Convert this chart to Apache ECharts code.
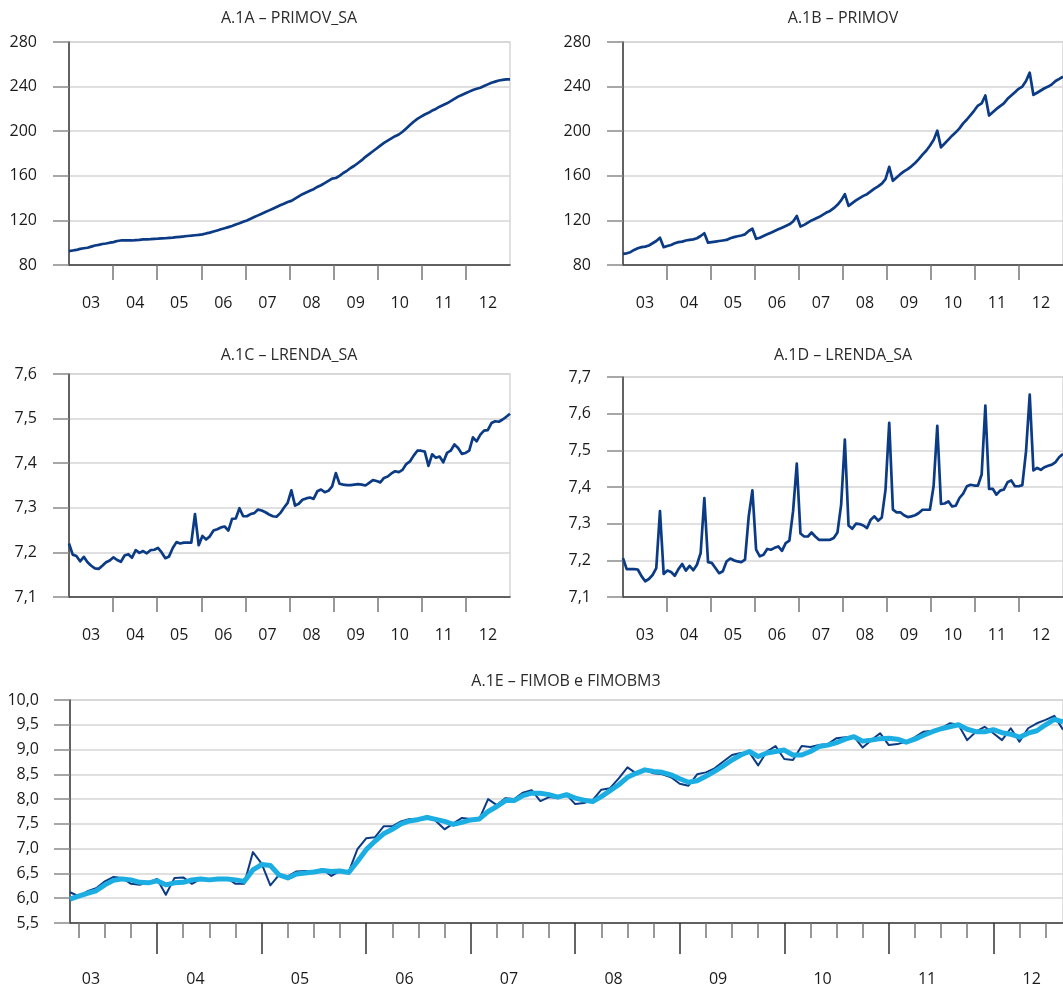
<!DOCTYPE html>
<html><head><meta charset="utf-8">
<script src="https://cdn.jsdelivr.net/npm/echarts@6/dist/echarts.min.js"></script>
<style>html,body{margin:0;padding:0;background:#fff}#c{width:1063px;height:990px}</style>
</head><body><div id="c"></div>
<script>
// ---------- data ----------
const yearLabels = ['03','04','05','06','07','08','09','10','11','12'];

// A.1A – PRIMOV_SA (monthly, 120 points)
const primovSA = [
  92.5,93,93.5,94.5,95,95.5,96.5,97.5,98,98.8,99.3,100,
  100.5,101.5,102,102,102,102,102.3,102.6,103,103,103.2,103.5,
  103.6,103.8,104,104.3,104.6,105,105.3,105.6,106,106.3,106.7,107,
  107.5,108.3,109,110,111,112,113,114,115,116.3,117.5,118.8,
  120,121.5,123,124.5,126,127.5,129,130.5,132,133.5,135,136.5,
  137.5,139.5,141.5,143.5,145,146.5,148,150,151.5,153.5,155.5,157.5,
  158,160,162.5,164.5,167,169,171.5,174,177,179.5,182,184.5,
  187,189.5,191.5,193.5,195.5,197,199.5,202.5,205.5,208.5,211,213,
  215,216.5,218.5,220,222,223.5,225,227,229,231,232.5,234,
  235.5,237,238,239,240.5,242,243.5,244.5,245.5,246,246.5,246.5
];

// A.1B – PRIMOV
const primov = [
  90,90.5,91.5,93.5,95,96,96.5,97.5,99.5,101.5,104.5,96,
  97,98,99.5,100.5,101,102,102.5,103,104,106,108.5,100,
  100.5,101,101.5,102,102.5,104,105,105.8,106.5,107.5,110.5,112.5,
  103.5,104.5,106,107.5,109,110.5,112,113.5,115,116.5,119,124,
  114.5,116,118,120,121.5,123,125,127,128.5,131,134,138,
  143.5,133,135.5,138,140,142,143.5,146,148.5,150.5,153,157,
  168,155.5,158.5,161.5,164,166,168.5,171.5,175,179,182.5,187,
  192,200.5,185.5,189,192.5,196,199,202.5,207,210.5,214.5,218.5,
  223,225,232,214,217,220,222.5,225,229,232,235,238,
  240,245,252.5,232.5,234.5,236.5,238.5,240,242,245,247,249
];

// A.1C – LRENDA_SA
const lrendaSA = [
  7.220,7.195,7.192,7.180,7.190,7.178,7.170,7.164,7.163,7.170,7.178,7.182,
  7.189,7.183,7.179,7.193,7.196,7.188,7.205,7.199,7.203,7.198,7.205,7.206,
  7.210,7.200,7.187,7.191,7.210,7.223,7.220,7.222,7.222,7.222,7.286,7.216,
  7.237,7.229,7.236,7.249,7.252,7.256,7.258,7.249,7.275,7.276,7.299,7.281,
  7.281,7.286,7.288,7.296,7.294,7.290,7.285,7.281,7.280,7.288,7.300,7.311,
  7.339,7.305,7.309,7.318,7.321,7.323,7.320,7.337,7.341,7.335,7.338,7.348,
  7.378,7.354,7.352,7.351,7.351,7.352,7.353,7.352,7.350,7.356,7.362,7.360,
  7.357,7.367,7.370,7.377,7.382,7.380,7.385,7.398,7.404,7.417,7.428,7.428,
  7.426,7.394,7.420,7.412,7.415,7.402,7.423,7.428,7.442,7.434,7.421,7.423,
  7.428,7.458,7.449,7.464,7.473,7.474,7.490,7.494,7.493,7.498,7.504,7.511
];

// A.1D – LRENDA (not seasonally adjusted)
const lrenda = [
  7.206,7.176,7.176,7.176,7.175,7.157,7.143,7.149,7.160,7.179,7.334,7.163,
  7.172,7.168,7.158,7.176,7.190,7.172,7.185,7.173,7.188,7.220,7.370,7.195,
  7.193,7.179,7.165,7.170,7.197,7.205,7.200,7.197,7.195,7.202,7.320,7.391,
  7.229,7.211,7.215,7.231,7.229,7.234,7.238,7.226,7.247,7.254,7.334,7.464,
  7.273,7.265,7.265,7.276,7.265,7.256,7.256,7.256,7.256,7.261,7.276,7.352,
  7.529,7.295,7.286,7.300,7.299,7.295,7.288,7.311,7.320,7.308,7.317,7.393,
  7.575,7.338,7.331,7.331,7.323,7.318,7.320,7.323,7.329,7.338,7.338,7.338,
  7.402,7.567,7.354,7.355,7.361,7.347,7.349,7.370,7.382,7.402,7.406,7.404,
  7.404,7.434,7.622,7.395,7.395,7.379,7.390,7.393,7.413,7.418,7.402,7.402,
  7.405,7.497,7.652,7.445,7.452,7.447,7.454,7.458,7.461,7.468,7.482,7.490
];

// A.1E – FIMOB (dark) and FIMOBM3 (light), monthly from the first visible month
const fimob = [
  6.12,6.04,6.14,6.20,6.34,6.43,6.41,6.29,6.27,6.32,6.39,6.07,
  6.41,6.42,6.29,6.39,6.37,6.39,6.41,6.29,6.29,6.93,6.70,6.26,
  6.47,6.44,6.54,6.55,6.53,6.59,6.45,6.55,6.53,6.99,7.21,7.23,
  7.45,7.45,7.55,7.60,7.58,7.66,7.56,7.39,7.51,7.62,7.60,7.60,
  8.00,7.88,8.02,8.00,8.13,8.18,7.96,8.04,8.02,8.09,7.90,7.92,
  7.98,8.19,8.22,8.42,8.64,8.52,8.59,8.52,8.50,8.44,8.31,8.27,
  8.50,8.54,8.62,8.76,8.89,8.93,8.94,8.68,8.96,9.07,8.81,8.79,
  9.07,9.05,9.09,9.11,9.23,9.25,9.26,9.04,9.19,9.33,9.09,9.11,
  9.16,9.25,9.36,9.38,9.43,9.53,9.50,9.19,9.36,9.46,9.33,9.19,
  9.43,9.16,9.43,9.53,9.60,9.68,9.40
];
const fimobM3 = [
  5.98,6.04,6.10,6.15,6.27,6.36,6.39,6.37,6.32,6.31,6.35,6.27,
  6.31,6.32,6.37,6.39,6.37,6.39,6.39,6.37,6.34,6.57,6.68,6.66,
  6.47,6.41,6.49,6.51,6.53,6.56,6.54,6.55,6.52,6.74,6.98,7.15,
  7.30,7.39,7.50,7.56,7.59,7.63,7.59,7.55,7.49,7.53,7.58,7.60,
  7.75,7.85,7.97,7.97,8.07,8.12,8.12,8.09,8.04,8.09,8.02,7.98,
  7.95,8.05,8.17,8.29,8.44,8.52,8.59,8.56,8.54,8.49,8.41,8.34,
  8.37,8.46,8.56,8.67,8.79,8.89,8.96,8.86,8.93,8.96,8.99,8.89,
  8.89,8.96,9.06,9.09,9.14,9.21,9.26,9.17,9.19,9.22,9.23,9.21,
  9.15,9.21,9.29,9.36,9.42,9.46,9.50,9.41,9.36,9.36,9.40,9.34,
  9.31,9.25,9.33,9.38,9.50,9.61,9.56
];

const titles = ['A.1A – PRIMOV_SA','A.1B – PRIMOV','A.1C – LRENDA_SA','A.1D – LRENDA_SA','A.1E – FIMOB e FIMOBM3'];

// ---------- styling / layout ----------
const FONT = '"Open Sans","Noto Sans",sans-serif';
const FS = 16;
const NAVY = '#0c3b85', CYAN = '#1caee2';
const LBL = '#1a1a1a', GRIDC = '#d6d6d6', AXC = '#3a3a3a';
const comma = v => v.toFixed(1).replace('.', ',');

// panels A-D: 120 months over 10 year-blocks
const YR = 119 / 10;
const yrTicks = []; for (let k = 1; k <= 9; k++) yrTicks.push(k * YR);
const yrLabelPos = yearLabels.map((_, k) => YR / 2 + k * YR);

function monthAxis(g) {
  return {
    type: 'value', gridIndex: g, min: 0, max: 119, position: 'bottom',
    axisLine: { show: true, onZero: false, lineStyle: { color: AXC, width: 1.5 } },
    axisTick: { show: true, customValues: yrTicks, length: 15, lineStyle: { color: '#777', width: 1.5 } },
    axisLabel: { customValues: yrLabelPos, margin: 30, color: LBL, fontSize: FS, fontFamily: FONT,
      formatter: v => yearLabels[Math.round((v - YR / 2) / YR)] },
    splitLine: { show: false }
  };
}
function valAxis(g, min, max, interval, fmt, margin) {
  return {
    type: 'value', gridIndex: g, min, max, interval, position: 'left',
    axisLine: { show: true, onZero: false, lineStyle: { color: AXC, width: 1.5 } },
    axisTick: { show: true, length: 16, lineStyle: { color: '#8a8a8a', width: 1.5 } },
    axisLabel: { margin: margin || 32, color: LBL, fontSize: FS, fontFamily: FONT, formatter: fmt },
    splitLine: { show: true, lineStyle: { color: GRIDC, width: 1.5 } }
  };
}

// panel E: axis from first month to the right edge of the picture
const EMAX = 114;
const eMajor = []; for (let m = 10; m <= EMAX; m += 12) eMajor.push(m);
const eMinor = []; for (let m = 1; m <= EMAX; m += 3) if ((m - 10) % 12 !== 0) eMinor.push(m);
const eLabelPos = yearLabels.map((_, k) => 2.4 + 12 * k);

const gridBase = { show: true, borderColor: GRIDC, borderWidth: 1.5, backgroundColor: 'transparent' };
const grids = [
  Object.assign({ left: 69, top: 42, width: 441, height: 223 }, gridBase),
  Object.assign({ left: 623, top: 42, right: 0, height: 223 }, gridBase),
  Object.assign({ left: 69, top: 374, width: 441, height: 223 }, gridBase),
  Object.assign({ left: 623, top: 377, right: 0, height: 220 }, gridBase),
  Object.assign({ left: 70, top: 700, right: 0, height: 223 }, gridBase)
];

const xAxes = [monthAxis(0), monthAxis(1), monthAxis(2), monthAxis(3),
  {
    type: 'value', gridIndex: 4, min: 0, max: EMAX, position: 'bottom',
    axisLine: { show: true, onZero: false, lineStyle: { color: AXC, width: 1.5 } },
    axisTick: { show: true, customValues: eMajor, length: 31, lineStyle: { color: '#333', width: 1.5 } },
    axisLabel: { customValues: eLabelPos, margin: 48, color: LBL, fontSize: FS, fontFamily: FONT,
      formatter: v => yearLabels[Math.round((v - 2.4) / 12)] },
    splitLine: { show: false }
  },
  {
    type: 'value', gridIndex: 4, min: 0, max: EMAX, position: 'bottom', offset: 0,
    axisLine: { show: false, onZero: false },
    axisTick: { show: true, customValues: eMinor, length: 15, lineStyle: { color: '#777', width: 1.5 } },
    axisLabel: { show: false },
    splitLine: { show: false }
  }
];
const yAxes = [
  valAxis(0, 80, 280, 40, v => String(v)),
  valAxis(1, 80, 280, 40, v => String(v)),
  valAxis(2, 7.1, 7.6, 0.1, comma),
  valAxis(3, 7.1, 7.7, 0.1, comma),
  valAxis(4, 5.5, 10, 0.5, comma, 31)
];

const pts = arr => arr.map((v, i) => [i, v]);
function line(xi, yi, arr, color, width, z) {
  return { type: 'line', xAxisIndex: xi, yAxisIndex: yi, data: pts(arr), showSymbol: false,
    symbol: 'none', silent: true, z: z || 2, lineStyle: { color, width, join: 'round' } };
}

const titlePos = [[289, 18], [843, 18], [289, 355], [843, 355], [566, 681]];
const graphic = titles.map((t, i) => ({
  type: 'text', x: titlePos[i][0], y: titlePos[i][1], silent: true,
  style: { text: t, align: 'center', verticalAlign: 'middle', textAlign: 'center', textVerticalAlign: 'middle',
    fontSize: FS, fontFamily: FONT, fill: '#2b2b2b' }
}));

const chart = echarts.init(document.getElementById('c'), null, { renderer: 'canvas' });
chart.setOption({
  animation: false,
  backgroundColor: '#fff',
  grid: grids,
  xAxis: xAxes,
  yAxis: yAxes,
  graphic,
  series: [
    line(0, 0, primovSA, NAVY, 2.7),
    line(1, 1, primov, NAVY, 2.7),
    line(2, 2, lrendaSA, NAVY, 2.7),
    line(3, 3, lrenda, NAVY, 2.7),
    line(5, 4, fimob, NAVY, 2, 2),
    line(5, 4, fimobM3, CYAN, 5, 3)
  ]
});
</script>
</body></html>
